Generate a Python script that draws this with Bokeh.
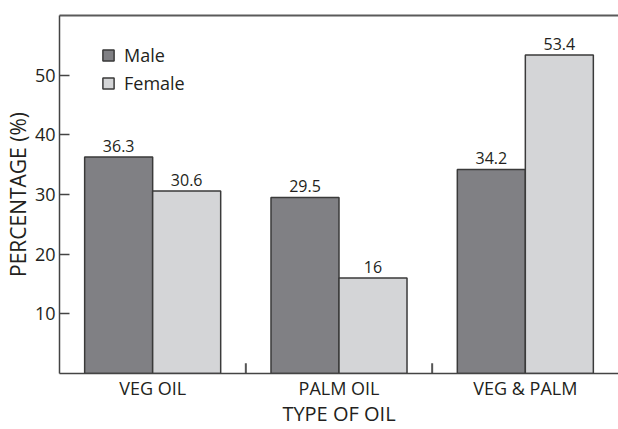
from bokeh.plotting import figure
from bokeh.models import (ColumnDataSource, FactorRange, Range1d, FixedTicker,
                          LinearAxis, Legend, LegendItem)
from bokeh.transform import dodge
from bokeh.core.properties import value
from bokeh.embed import file_html
from bokeh.resources import INLINE

categories = ["VEG OIL", "PALM OIL", "VEG & PALM"]
male = [36.3, 29.5, 34.2]
female = [30.6, 16.0, 53.4]
y_ticks = [10, 20, 30, 40, 50]
x_title = "TYPE OF OIL"
y_title = "PERCENTAGE (%)"

FONT = "Open Sans"
TXT = "#231f20"
MALE_C = "#808084"
FEMALE_C = "#d4d5d7"
EDGE = "#3a3a3a"

src = ColumnDataSource(dict(
    cat=categories,
    male=male,
    female=female,
    male_lbl=[f"{v:g}" for v in male],
    female_lbl=[f"{v:g}" for v in female],
))

p = figure(width=618, height=429, x_range=FactorRange(*categories, range_padding=0),
           y_range=Range1d(0, 60), output_backend="svg", toolbar_location=None,
           min_border_left=58, min_border_right=0, min_border_top=15,
           min_border_bottom=0)
p.outline_line_color = None
p.grid.visible = False
p.background_fill_color = "white"
p.border_fill_color = "white"

BW = 0.365
OFF = BW / 2
r_m = p.vbar(x=dodge("cat", -OFF, range=p.x_range), top="male", width=BW, source=src,
             fill_color=MALE_C, line_color=EDGE, line_width=1.5)
r_f = p.vbar(x=dodge("cat", OFF, range=p.x_range), top="female", width=BW, source=src,
             fill_color=FEMALE_C, line_color=EDGE, line_width=1.5)

p.text(x=dodge("cat", -OFF, range=p.x_range), y="male", text="male_lbl", source=src,
       text_align="center", text_baseline="bottom", y_offset=-5,
       text_font=value(FONT), text_font_size="16px", text_color=TXT)
p.text(x=dodge("cat", OFF, range=p.x_range), y="female", text="female_lbl", source=src,
       text_align="center", text_baseline="bottom", y_offset=-5,
       text_font=value(FONT), text_font_size="16px", text_color=TXT)

# category separators (inward ticks at group boundaries)
sep_x = [(c, 0.5) for c in categories[:-1]]
p.segment(x0=sep_x, x1=sep_x, y0=[0] * len(sep_x), y1=[1.7] * len(sep_x),
          line_color="#555555", line_width=2)

# axes
ya = p.yaxis[0]
ya.ticker = FixedTicker(ticks=y_ticks)
ya.major_tick_in = 10
ya.major_tick_out = 0
ya.minor_tick_line_color = None
ya.major_tick_line_color = "#444444"
ya.major_tick_line_width = 1.5
ya.axis_line_color = "#444444"
ya.axis_line_width = 1.5
ya.major_label_text_font = FONT
ya.major_label_text_font_size = "18px"
ya.major_label_text_color = TXT
ya.major_label_standoff = 4
ya.axis_label = y_title
ya.axis_label_text_font = FONT
ya.axis_label_text_font_size = "21px"
ya.axis_label_text_font_style = "normal"
ya.axis_label_text_color = TXT
ya.axis_label_standoff = 0
ya.axis_label_text_line_height = 0.9

xa = p.xaxis[0]
xa.major_tick_line_color = None
xa.minor_tick_line_color = None
xa.axis_line_color = "#444444"
xa.axis_line_width = 1.5
xa.major_label_text_font = FONT
xa.major_label_text_font_size = "18px"
xa.major_label_text_color = TXT
xa.major_label_standoff = -4
xa.major_label_text_line_height = 0.9
xa.axis_label = x_title
xa.axis_label_text_font = FONT
xa.axis_label_text_font_size = "20px"
xa.axis_label_text_font_style = "normal"
xa.axis_label_text_color = TXT
xa.axis_label_standoff = -3
xa.axis_label_text_line_height = 0.9

top = LinearAxis(major_tick_line_color=None, minor_tick_line_color=None,
                 major_label_text_font_size="0px", major_label_standoff=0,
                 axis_line_color="#5a5a5a", axis_line_width=2)
p.add_layout(top, "above")

legend = Legend(items=[LegendItem(label="Male", renderers=[r_m]),
                       LegendItem(label="Female", renderers=[r_f])],
                location=(42, 278), padding=0, margin=0, spacing=4,
                glyph_width=14, glyph_height=14, label_height=22,
                label_standoff=9, border_line_color=None,
                background_fill_alpha=0,
                label_text_font=FONT, label_text_font_size="18px",
                label_text_color=TXT)
p.add_layout(legend)

open("out.html", "w").write(file_html(p, INLINE))
